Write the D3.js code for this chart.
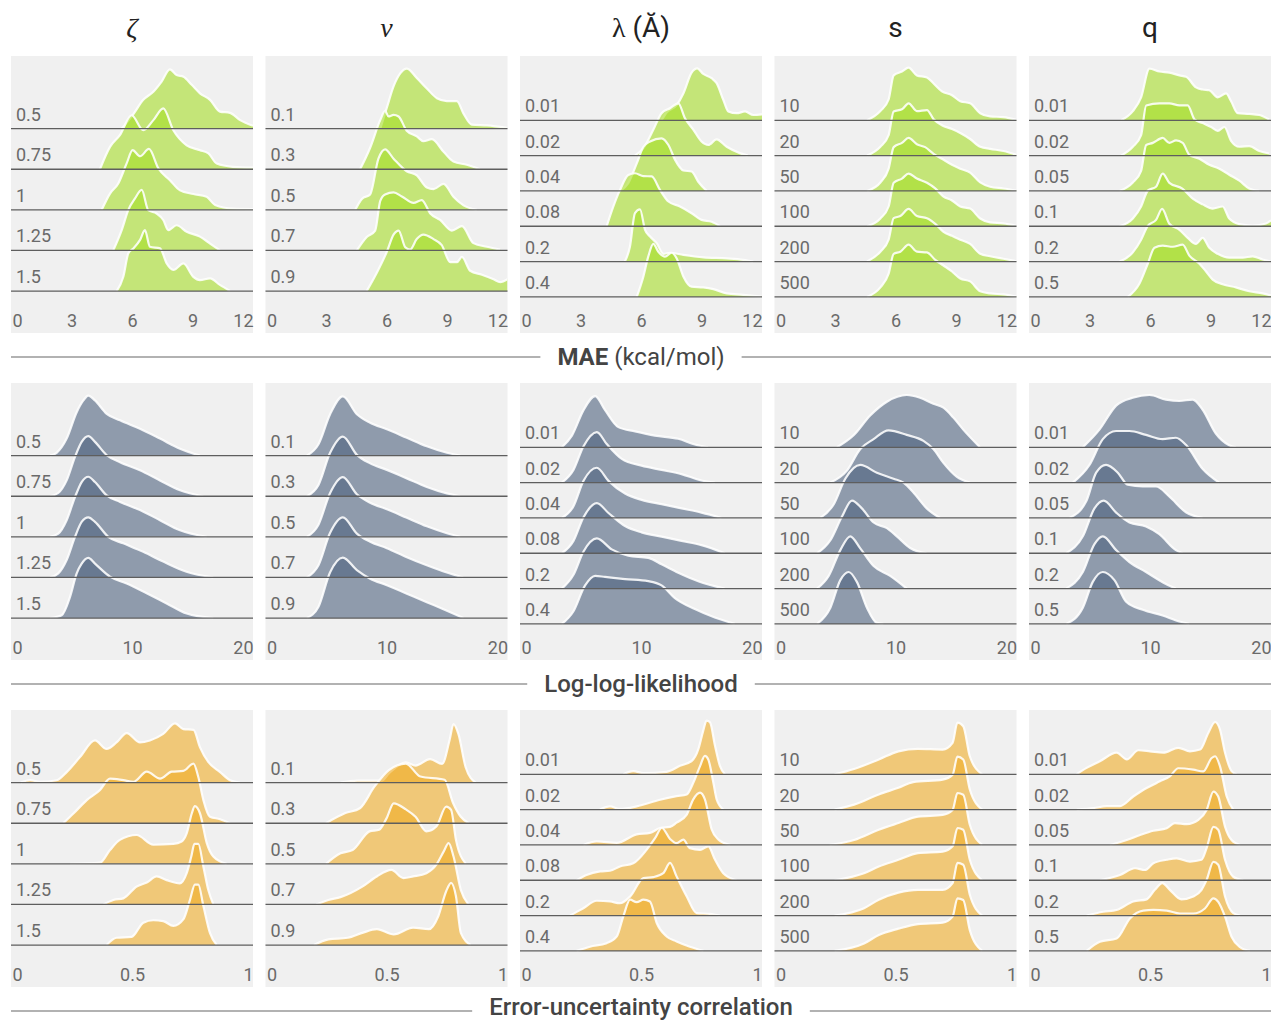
<!DOCTYPE html>
<html><head><meta charset="utf-8">
<script src="https://cdn.jsdelivr.net/npm/d3@7"></script>
<style>
body{margin:0;background:#fff;}
svg{display:block;font-family:Roboto,"Noto Sans",sans-serif;}
</style>
</head><body>
<svg id="chart" width="1271" height="1020"></svg>
<script>
// ---------- labels ----------
const columnTitles = ["ζ", "ν", "λ", "s", "q"];
const zetaLevels = ["0.5", "0.75", "1", "1.25", "1.5"];
const nuLevels = ["0.1", "0.3", "0.5", "0.7", "0.9"];
const lambdaLevels = ["0.01", "0.02", "0.04", "0.08", "0.2", "0.4"];
const sLevels = ["10", "20", "50", "100", "200", "500"];
const qLevels = ["0.01", "0.02", "0.05", "0.1", "0.2", "0.5"];
const rowTitles = ["MAE", "Log-log-likelihood", "Error-uncertainty correlation"];
const maeTicks = [0, 3, 6, 9, 12];
const llTicks = [0, 10, 20];
const corrTicks = [0, 0.5, 1];
const maeDomain = [0, 12];
const llDomain = [0, 20];
const corrDomain = [0, 1];

// ---------- densities: flat [x, h, x, h, ...] (h = relative density height) ----------
const maeZeta = [
 [5.49,0,6.07,0.36,6.56,0.71,7.06,0.91,7.47,1.16,7.88,1.46,8.21,1.32,8.55,1.28,8.96,1.08,9.37,0.87,9.87,0.71,10.36,0.42,10.86,0.39,11.36,0.21,12,0.07],
 [4.41,0,4.91,0.55,5.40,0.84,5.98,1.33,6.56,0.96,7.06,1.21,7.55,1.50,8.05,0.96,8.71,0.59,9.37,0.47,9.79,0.39,10.2,0.14,11.0,0.06,12.0,0.04],
 [4.5,0,4.91,0.40,5.32,0.65,5.74,1.15,6.03,1.47,6.40,1.32,6.84,1.50,7.31,1.02,7.88,0.73,8.38,0.48,9.04,0.39,9.70,0.32,10.12,0.12,11.0,0.03,12.0,0.02],
 [5.07,0,5.49,0.50,5.82,1.0,6.15,1.28,6.48,1.49,6.81,0.99,7.22,0.91,7.55,0.75,7.80,0.50,8.21,0.62,8.71,0.46,9.37,0.34,9.87,0.17,10.36,0],
 [5.24,0,5.57,0.35,5.82,0.93,6.07,1.05,6.40,1.26,6.64,1.50,6.89,1.09,7.39,1.05,7.72,0.68,8.05,0.52,8.55,0.68,9.04,0.35,9.37,0.27,9.87,0.31,10.36,0.15,10.86,0]
];
const maeNu = [
 [5.69,0,6.02,0.52,6.35,1.04,6.68,1.36,7.01,1.48,7.5,1.25,8.0,0.99,8.5,0.75,8.99,0.68,9.49,0.68,9.82,0.37,10.23,0.10,10.98,0.08,11.97,0.02],
 [4.69,0,5.19,0.53,5.69,1.21,5.93,1.44,6.1,1.30,6.35,1.34,6.6,1.30,7.0,0.95,7.5,0.81,7.83,0.69,8.25,0.74,8.83,0.43,9.32,0.19,9.98,0.11,10.64,0],
 [4.45,0,4.78,0.27,5.19,0.38,5.6,1.26,5.93,1.49,6.35,1.26,7.0,0.95,7.5,0.85,8.0,0.55,8.33,0.51,8.83,0.64,9.32,0.32,9.82,0.11,10.48,0],
 [4.53,0,5.02,0.33,5.44,0.49,5.69,1.22,5.93,1.38,6.35,1.43,6.76,1.33,7.34,1.17,7.75,1.24,8.17,0.91,8.66,0.75,9.24,0.49,9.74,0.60,10.31,0.18,10.98,0.09,11.64,0.02],
 [5.02,0,5.52,0.45,6.02,0.97,6.35,1.39,6.6,1.49,6.93,1.08,7.17,1.02,7.5,1.28,7.83,1.39,8.33,1.28,8.74,1.13,9.16,0.71,9.49,0.71,9.74,0.84,10.15,0.50,10.73,0.40,11.31,0.29,11.64,0.22,12.0,0.29]
];
const maeLambda = [
 [7.02,0,7.27,0.22,7.77,0.43,8.1,0.76,8.51,1.35,8.79,1.47,9.09,1.31,9.5,1.19,9.75,1.05,10.08,0.58,10.33,0.25,10.74,0.20,11.16,0.25,11.57,0.15,12,0.17],
 [5.7,0,6.12,0.21,6.61,0.73,7.02,1.2,7.44,1.34,7.85,1.48,8.18,1.06,8.6,0.73,9.0,0.40,9.34,0.30,9.75,0.46,10.25,0.25,10.9,0.07,11.3,0],
 [4.96,0,5.37,0.22,5.79,0.78,6.12,1.25,6.45,1.40,7.02,1.49,7.36,1.30,7.69,0.88,8.1,0.58,8.51,0.55,8.84,0.26,9.26,0],
 [4.3,0,4.63,0.56,4.96,1.03,5.37,1.45,5.7,1.5,6.12,1.42,6.53,1.41,6.94,1.03,7.36,0.70,7.93,0.56,8.51,0.37,9.0,0.18,9.5,0.13,9.92,0],
 [5.2,0,5.45,0.42,5.7,1.37,5.95,1.48,6.2,0.90,6.45,0.71,6.78,0.52,7.11,0.22,7.44,0.25,8.1,0.19,9.1,0.12,10.25,0.09,11.07,0.05,11.57,0],
 [5.79,0,6.12,0.58,6.36,1.14,6.61,1.5,6.86,1.28,7.19,1.14,7.52,1.25,7.77,1.09,8.1,0.58,8.51,0.29,9.09,0.27,9.59,0.22,10.25,0.10,11.07,0.06,11.98,0.01]
];
const maeS = [
 [4.59,0,5.25,0.26,5.66,0.59,5.91,1.27,6.32,1.38,6.65,1.49,7.06,1.27,7.56,1.21,7.89,1.04,8.3,0.82,8.8,0.71,9.21,0.54,9.7,0.48,10.2,0.20,10.69,0.11,11.35,0.09,12.0,0.01],
 [4.59,0,5.25,0.25,5.66,0.58,5.91,1.25,6.32,1.31,6.65,1.48,7.06,1.26,7.56,1.29,7.89,1.03,8.3,0.86,8.8,0.75,9.21,0.64,9.7,0.47,10.2,0.25,10.69,0.19,11.35,0.13,12.0,0.02],
 [4.59,0,5.25,0.24,5.66,0.63,5.91,1.24,6.32,1.36,6.65,1.5,7.06,1.32,7.47,1.24,7.89,1.05,8.3,0.91,8.8,0.74,9.21,0.63,9.7,0.52,10.2,0.24,10.69,0.12,11.35,0.07,12.0,0.01],
 [4.59,0,5.25,0.22,5.66,0.56,5.91,1.23,6.32,1.35,6.65,1.49,7.06,1.35,7.56,1.23,7.97,1.07,8.38,0.84,8.8,0.73,9.21,0.56,9.7,0.50,10.2,0.22,10.69,0.11,11.35,0.08,12.0,0.01],
 [4.59,0,5.25,0.28,5.66,0.62,5.91,1.23,6.24,1.29,6.65,1.49,7.06,1.29,7.56,1.23,7.97,1.07,8.38,0.84,8.8,0.73,9.21,0.62,9.7,0.50,10.2,0.22,10.69,0.15,11.35,0.08,12.0,0.01],
 [4.59,0,5.25,0.27,5.66,0.66,5.91,1.22,6.24,1.28,6.65,1.48,7.06,1.28,7.56,1.26,7.97,1.05,8.38,0.89,8.8,0.72,9.21,0.52,9.7,0.44,10.2,0.16,10.69,0.10,11.35,0.07,12.0,0.01]
];
const maeQ = [
 [4.57,0,5.15,0.26,5.56,0.65,5.97,1.46,6.47,1.38,6.96,1.35,7.46,1.27,7.79,1.23,8.28,0.93,8.61,0.87,8.94,0.85,9.36,0.65,9.77,0.76,10.02,0.54,10.35,0.20,10.92,0.18,11.42,0.15,11.91,0.02],
 [4.57,0,5.15,0.25,5.56,0.58,5.81,1.42,6.47,1.48,6.96,1.48,7.46,1.42,7.87,1.42,8.2,1.03,8.61,0.92,9.03,0.81,9.36,0.70,9.69,0.81,10.02,0.42,10.43,0.25,10.92,0.27,11.42,0.13,11.91,0.06],
 [4.49,0,5.15,0.24,5.56,0.57,5.81,1.30,6.14,1.36,6.63,1.50,6.96,1.36,7.29,1.43,7.62,1.36,7.95,1.02,8.45,0.91,8.94,0.74,9.44,0.63,9.93,0.46,10.43,0.29,10.92,0.07,11.42,0],
 [4.49,0,5.15,0.22,5.56,0.56,5.89,1.01,6.3,1.12,6.63,1.49,6.96,1.23,7.62,1.06,8.12,0.78,8.61,0.62,9.11,0.50,9.6,0.56,9.93,0.22,10.43,0.06,11.09,0.02,11.75,0.08,12.0,0.17],
 [4.49,0,5.15,0.26,5.56,0.62,5.89,1.01,6.3,1.18,6.6,1.49,6.96,1.07,7.46,0.90,7.87,0.67,8.28,0.50,8.61,0.67,8.94,0.39,9.36,0.22,9.93,0.11,10.59,0.11,11.09,0.15,11.58,0.06,11.96,0.01],
 [4.9,0,5.48,0.38,5.89,0.94,6.22,1.39,6.63,1.45,7.13,1.42,7.62,1.48,7.95,1.17,8.45,0.94,8.78,0.72,9.11,0.49,9.6,0.36,10.26,0.27,10.92,0.16,11.58,0.10,12.0,0.04]
];
const llZeta = [
 [3.22,0,3.77,0.07,4.6,0.42,5.43,1.07,5.98,1.36,6.39,1.48,6.94,1.36,7.91,1.03,9.01,0.87,10.66,0.66,12.31,0.42,13.97,0.17,15.62,0],
 [3.22,0,3.91,0.08,4.6,0.39,5.29,0.97,5.84,1.34,6.39,1.48,6.94,1.34,7.91,1.01,9.01,0.84,10.66,0.64,12.31,0.39,13.97,0.15,15.89,0],
 [3.22,0,3.91,0.08,4.6,0.41,5.29,0.98,5.84,1.35,6.39,1.48,6.94,1.35,7.91,1.02,9.01,0.86,10.66,0.66,12.31,0.41,13.97,0.16,16.17,0],
 [3.22,0,3.91,0.10,4.6,0.43,5.29,1.0,5.84,1.37,6.39,1.48,6.94,1.37,8.04,1.0,9.28,0.84,10.93,0.63,12.58,0.39,14.5,0.14,16.72,0],
 [3.22,0,4.19,0.07,4.88,0.52,5.43,1.1,5.84,1.34,6.39,1.48,6.94,1.34,8.18,1.02,9.56,0.85,11.21,0.61,12.86,0.36,14.52,0.11,16.72,0]
];
const llNu = [
 [3.42,0,4.38,0.28,5.34,1.02,6.39,1.46,7.55,1.02,8.65,0.81,10.03,0.65,11.68,0.44,13.33,0.23,14.99,0.07,16.09,0],
 [3.42,0,4.38,0.28,5.34,1.07,6.39,1.47,7.55,1.02,8.65,0.81,10.03,0.65,11.68,0.44,13.33,0.23,14.99,0.07,16.09,0],
 [3.42,0,4.38,0.30,5.34,1.08,6.39,1.47,7.55,1.05,8.65,0.84,10.03,0.68,11.68,0.47,13.33,0.26,14.99,0.09,16.09,0],
 [3.42,0,4.38,0.30,5.34,1.10,6.39,1.48,7.55,1.08,8.65,0.88,10.03,0.72,11.68,0.50,13.33,0.30,14.99,0.12,16.36,0],
 [3.42,0,4.38,0.28,5.34,1.13,6.39,1.49,7.55,1.18,8.65,0.97,10.03,0.81,11.68,0.60,13.33,0.39,14.99,0.18,16.36,0]
];
const llLambda = [
 [3.46,0,4.29,0.33,5.25,1.05,6.21,1.45,7.03,1.05,8.13,0.57,9.51,0.45,11.15,0.33,13.08,0.24,14.45,0.08,15.55,0],
 [3.46,0,4.42,0.36,5.25,1.03,6.35,1.43,7.17,1.09,8.41,0.67,10.05,0.48,11.7,0.36,13.35,0.24,15,0.06,16.1,0],
 [3.46,0,4.42,0.33,5.25,1.05,6.35,1.42,7.31,1.05,8.68,0.69,10.05,0.51,11.7,0.39,13.35,0.27,15,0.15,16.65,0],
 [3.46,0,4.42,0.35,5.25,1.02,6.35,1.42,7.31,1.14,8.68,0.77,10.05,0.59,11.7,0.47,13.35,0.35,15,0.23,16.92,0],
 [3.46,0,4.42,0.39,5.25,1.05,6.35,1.42,7.58,1.11,8.95,0.93,10.6,0.87,11.7,0.69,13.08,0.45,14.73,0.21,16.92,0],
 [3.46,0,4.42,0.36,5.38,1.09,6.21,1.36,7.03,1.33,8.68,1.27,10.6,1.21,11.7,1.09,12.8,0.73,14.45,0.42,16.1,0.18,17.75,0]
];
const llS = [
 [5.16,0,6.54,0.34,7.91,0.9,9.29,1.29,10.93,1.48,12.03,1.40,13.13,1.23,13.96,1.12,14.78,0.84,15.6,0.50,16.98,0],
 [4.62,0,5.99,0.34,7.09,0.95,8.19,1.23,9.42,1.48,10.93,1.35,12.31,1.18,13.13,0.95,13.96,0.56,15.05,0.17,16.15,0],
 [3.79,0,4.89,0.38,5.85,1.11,7.09,1.50,8.46,1.28,9.84,1.11,10.66,1.0,11.48,0.72,12.58,0.27,13.68,0],
 [3.52,0,4.62,0.37,5.58,1.04,6.4,1.49,7.22,1.27,8.19,0.87,9.29,0.71,10.11,0.48,11.21,0.15,12.58,0],
 [3.52,0,4.48,0.36,5.44,1.09,6.26,1.48,7.09,1.14,8.19,0.64,9.56,0.36,10.93,0],
 [3.52,0,4.62,0.46,5.44,1.24,6.13,1.47,6.81,1.19,7.64,0.46,8.46,0.03,9.0,0]
];
const llQ = [
 [4.45,0,5.82,0.50,7.2,1.18,8.57,1.40,9.95,1.48,11.32,1.35,12.42,1.31,13.52,1.35,14.34,1.07,15.44,0.39,16.54,0.06,17.09,0],
 [3.63,0,5.0,0.50,6.1,1.23,7.2,1.46,8.3,1.46,9.67,1.35,11.04,1.23,12.14,1.27,12.97,1.07,14.34,0.39,15.71,0],
 [3.35,0,4.73,0.47,5.55,1.28,6.37,1.50,7.34,1.28,8.16,0.94,9.4,0.89,10.49,0.89,11.59,0.61,12.97,0.16,14.34,0],
 [3.08,0,4.45,0.48,5.41,1.27,6.18,1.49,7.2,1.15,8.3,0.87,9.67,0.76,10.77,0.54,12.14,0.09,12.69,0],
 [3.08,0,4.45,0.47,5.41,1.26,6.1,1.48,7.2,1.09,8.3,0.75,9.67,0.47,11.32,0.13,12.14,0],
 [3.08,0,4.45,0.46,5.27,1.19,6.1,1.47,7.06,1.24,8.03,0.63,9.4,0.40,11.04,0.24,12.42,0.07,13.24,0]
];
const corrZeta = [
 [0.04,0,0.079,0.06,0.12,0.02,0.189,0.06,0.23,0.26,0.285,0.63,0.347,1.04,0.395,0.83,0.436,0.99,0.478,1.22,0.533,0.99,0.574,1.04,0.629,1.20,0.678,1.46,0.712,1.32,0.754,1.30,0.781,0.87,0.815,0.51,0.864,0.26,0.905,0.06,0.946,0],
 [0.216,0,0.258,0.24,0.313,0.57,0.368,0.82,0.409,1.1,0.464,1.06,0.506,1.02,0.561,1.27,0.616,1.10,0.664,1.27,0.712,1.29,0.754,1.47,0.774,1.14,0.795,0.57,0.822,0.16,0.864,0.10,0.905,0],
 [0.244,0,0.368,0.03,0.409,0.34,0.45,0.59,0.519,0.71,0.588,0.47,0.671,0.49,0.705,0.55,0.726,0.75,0.747,1.24,0.76,1.42,0.781,1.24,0.809,0.51,0.836,0.18,0.891,0],
 [0.382,0,0.423,0.11,0.464,0.15,0.519,0.44,0.561,0.54,0.602,0.69,0.643,0.60,0.698,0.52,0.726,0.77,0.745,1.18,0.758,1.49,0.774,1.49,0.795,0.93,0.815,0.36,0.836,0],
 [0.395,0,0.436,0.18,0.498,0.20,0.547,0.55,0.588,0.61,0.629,0.59,0.671,0.47,0.712,0.63,0.74,1.12,0.76,1.49,0.774,1.49,0.795,0.96,0.822,0.30,0.85,0]
];
const corrNu = [
 [0.31,0,0.38,0.05,0.48,0.05,0.51,0.23,0.58,0.50,0.62,0.42,0.68,0.58,0.73,0.46,0.76,1.03,0.777,1.44,0.797,1.20,0.827,0.38,0.868,0],
 [0.25,0,0.33,0.25,0.39,0.37,0.45,0.90,0.51,1.31,0.58,1.47,0.64,1.15,0.74,1.07,0.775,0.5,0.807,0.16,0.84,0],
 [0.25,0,0.31,0.26,0.36,0.34,0.43,0.80,0.47,0.84,0.50,1.12,0.53,1.49,0.58,1.34,0.62,1.16,0.665,0.80,0.706,0.92,0.747,1.41,0.767,1.33,0.787,0.59,0.828,0],
 [0.21,0,0.26,0.11,0.31,0.18,0.40,0.44,0.46,0.69,0.52,0.85,0.57,0.65,0.61,0.69,0.665,0.77,0.706,0.98,0.736,1.30,0.757,1.51,0.777,1.18,0.807,0.36,0.838,0],
 [0.2,0,0.26,0.14,0.34,0.18,0.40,0.30,0.46,0.39,0.53,0.26,0.61,0.43,0.675,0.39,0.714,0.71,0.747,1.33,0.767,1.53,0.787,1.20,0.807,0.30,0.848,0]
];
const corrLambda = [
 [0.427,0,0.468,0.09,0.51,0.03,0.606,0.07,0.661,0.24,0.71,0.38,0.737,0.71,0.757,1.23,0.771,1.52,0.785,1.47,0.806,0.80,0.826,0.24,0.847,0],
 [0.33,0,0.372,0.09,0.413,0.02,0.482,0.09,0.579,0.28,0.647,0.38,0.689,0.43,0.716,0.76,0.744,1.23,0.764,1.52,0.778,1.42,0.799,0.76,0.813,0.28,0.84,0],
 [0.262,0,0.317,0.1,0.40,0.06,0.482,0.30,0.537,0.34,0.579,0.48,0.62,0.51,0.647,0.63,0.689,0.86,0.716,1.29,0.744,1.48,0.764,1.29,0.792,0.44,0.82,0.15,0.868,0],
 [0.234,0,0.275,0.15,0.331,0.25,0.372,0.27,0.413,0.39,0.468,0.48,0.523,0.86,0.558,1.19,0.586,1.48,0.62,1.17,0.647,1.05,0.675,1.15,0.702,0.91,0.744,0.86,0.778,0.96,0.806,0.58,0.84,0.2,0.895,0],
 [0.207,0,0.262,0.21,0.317,0.42,0.372,0.40,0.413,0.35,0.455,0.54,0.51,1.06,0.551,1.09,0.592,1.20,0.62,1.49,0.647,1.11,0.689,0.54,0.73,0.07,0.785,0.05,0.826,0],
 [0.234,0,0.289,0.12,0.358,0.22,0.4,0.41,0.427,0.98,0.455,1.45,0.482,1.38,0.51,1.45,0.537,1.40,0.565,0.79,0.606,0.41,0.647,0.27,0.702,0.12,0.758,0]
];
const corrS = [
 [0.248,0,0.329,0.15,0.431,0.42,0.512,0.65,0.593,0.72,0.695,0.70,0.736,0.89,0.756,1.46,0.78,1.36,0.807,0.51,0.858,0],
 [0.248,0,0.329,0.14,0.431,0.43,0.512,0.62,0.573,0.78,0.695,0.85,0.736,0.99,0.756,1.50,0.78,1.42,0.807,0.57,0.858,0],
 [0.228,0,0.329,0.14,0.431,0.43,0.512,0.62,0.593,0.80,0.695,0.85,0.736,0.99,0.756,1.47,0.78,1.42,0.807,0.57,0.858,0],
 [0.248,0,0.37,0.2,0.431,0.39,0.512,0.58,0.593,0.77,0.695,0.81,0.736,0.96,0.756,1.48,0.78,1.43,0.807,0.58,0.858,0],
 [0.248,0,0.37,0.21,0.431,0.45,0.512,0.65,0.593,0.73,0.695,0.73,0.736,0.92,0.756,1.49,0.78,1.44,0.807,0.59,0.858,0],
 [0.248,0,0.37,0.21,0.431,0.45,0.512,0.63,0.593,0.76,0.695,0.80,0.736,0.97,0.756,1.49,0.78,1.44,0.807,0.59,0.858,0]
];
const corrQ = [
 [0.197,0,0.238,0.18,0.293,0.37,0.362,0.61,0.404,0.42,0.452,0.68,0.5,0.65,0.555,0.61,0.617,0.75,0.665,0.65,0.707,0.70,0.741,1.17,0.769,1.48,0.789,1.27,0.81,0.61,0.837,0.09,0.858,0],
 [0.197,0,0.266,0.04,0.321,0.10,0.376,0.10,0.431,0.37,0.486,0.61,0.541,0.80,0.582,0.94,0.617,1.17,0.679,1.13,0.72,1.08,0.755,1.46,0.769,1.51,0.789,1.23,0.817,0.37,0.844,0],
 [0.335,0,0.404,0.14,0.459,0.28,0.514,0.40,0.569,0.47,0.603,0.62,0.652,0.59,0.7,0.71,0.734,0.99,0.762,1.51,0.782,1.37,0.81,0.52,0.837,0.14,0.872,0],
 [0.293,0,0.376,0.15,0.438,0.34,0.479,0.29,0.514,0.48,0.569,0.58,0.61,0.62,0.665,0.53,0.713,0.58,0.734,0.91,0.762,1.51,0.782,1.43,0.81,0.58,0.844,0.10,0.886,0],
 [0.238,0,0.307,0.11,0.362,0.16,0.431,0.40,0.486,0.46,0.52,0.73,0.551,0.92,0.582,0.73,0.63,0.46,0.679,0.54,0.713,0.73,0.734,1.01,0.762,1.52,0.782,1.44,0.81,0.54,0.844,0.07,0.872,0],
 [0.238,0,0.293,0.26,0.362,0.35,0.417,0.92,0.472,1.14,0.514,1.16,0.569,1.14,0.624,1.06,0.679,1.06,0.727,1.20,0.762,1.49,0.782,1.39,0.81,0.97,0.837,0.40,0.872,0.11,0.913,0]
];

// ---------- styling ----------
const fills = ["#a6de28", "#4e627f", "#f0ad28"];
const panelW = 242, panelH = 277;
const colLeft = i => 11 + i * 254.5;
const rowTop = r => 56 + r * 327;

const levelSets = [zetaLevels, nuLevels, lambdaLevels, sLevels, qLevels];
const rows = [
  {domain: maeDomain, ticks: maeTicks, data: [maeZeta, maeNu, maeLambda, maeS, maeQ]},
  {domain: llDomain, ticks: llTicks, data: [llZeta, llNu, llLambda, llS, llQ]},
  {domain: corrDomain, ticks: corrTicks, data: [corrZeta, corrNu, corrLambda, corrS, corrQ]}
];

const svg = d3.select("#chart");
const toPairs = arr => d3.range(0, arr.length, 2).map(k => [arr[k], arr[k + 1]]);

// column titles
const titleG = svg.append("g");
columnTitles.forEach((t, i) => {
  const cx = colLeft(i) + panelW / 2;
  const txt = titleG.append("text").attr("x", cx).attr("y", 37)
    .attr("text-anchor", "middle").attr("fill", "#222").attr("font-size", 28);
  if (i < 2) {
    txt.attr("font-family", "'Liberation Serif','DejaVu Serif',serif").attr("font-style", "italic").text(t);
  } else if (i === 2) {
    txt.append("tspan").attr("font-family", "'Liberation Serif','DejaVu Serif',serif").text(t);
    txt.append("tspan").text(" (Ă)");
  } else {
    txt.text(t);
  }
});

rows.forEach((row, r) => {
  const x = d3.scaleLinear().domain(row.domain).range([0, panelW]);
  row.data.forEach((ridges, c) => {
    const levels = levelSets[c];
    const N = levels.length;
    const step = 272.4 / (N + 1.71);
    const base = i => 8.1 + (i + 1.59) * step;
    const hScale = d3.scaleLinear().domain([0, 1]).range([0, -step]);
    const g = svg.append("g").attr("transform", `translate(${colLeft(c)},${rowTop(r)})`);
    const clipId = `clip-${r}-${c}`;
    g.append("clipPath").attr("id", clipId).append("rect").attr("width", panelW).attr("height", panelH);
    g.append("rect").attr("width", panelW).attr("height", panelH).attr("fill", "#f0f0f0");

    const area = d3.area().x(d => x(d[0])).y0(0).y1(d => hScale(d[1])).curve(d3.curveMonotoneX);
    const line = d3.line().x(d => x(d[0])).y(d => hScale(d[1])).curve(d3.curveMonotoneX);
    const body = g.append("g").attr("clip-path", `url(#${clipId})`);
    ridges.forEach((flat, i) => {
      const pts = toPairs(flat);
      const rg = body.append("g").attr("transform", `translate(0,${base(i)})`);
      rg.append("path").attr("d", area(pts)).attr("fill", fills[r]).attr("fill-opacity", 0.6);
      rg.append("path").attr("d", line(pts)).attr("fill", "none")
        .attr("stroke", "#ffffff").attr("stroke-opacity", 0.88).attr("stroke-width", 2.2)
        .attr("stroke-linejoin", "round");
    });
    levels.forEach((lv, i) => {
      g.append("line").attr("x1", 0).attr("x2", panelW).attr("y1", base(i)).attr("y2", base(i))
        .attr("stroke", "#5e5e5e").attr("stroke-width", 1.3);
      g.append("text").attr("x", 5).attr("y", base(i) - 8).attr("font-size", 18)
        .attr("fill", "#6a6a6a").text(lv);
    });
    // x axis
    const ax = g.append("g").attr("transform", `translate(0,271)`)
      .call(d3.axisBottom(x).tickValues(row.ticks).tickSize(0).tickPadding(0).tickFormat(d3.format("~g")));
    ax.select(".domain").remove();
    ax.selectAll("text").attr("y", 0).attr("dy", 0).attr("font-size", 18)
      .attr("font-family", "Roboto,'Noto Sans',sans-serif").attr("fill", "#6a6a6a");
    ax.selectAll(".tick text").attr("text-anchor", (d, k, n) => k === 0 ? "start" : (k === n.length - 1 ? "end" : "middle"))
      .attr("dx", (d, k, n) => k === 0 ? 1 : 0);
  });

  // row title with rules
  const ty = rowTop(r) + 301;
  const tg = svg.append("g");
  const t = tg.append("text").attr("x", 641).attr("y", r === 2 ? ty + 3.5 : ty + 8)
    .attr("text-anchor", "middle").attr("font-size", 24).attr("fill", "#444");
  if (r === 0) {
    t.append("tspan").attr("font-weight", 700).text(rowTitles[0]);
    t.append("tspan").attr("font-weight", 400).text(" (kcal/mol)");
  } else {
    t.attr("font-weight", 500).text(rowTitles[r]);
  }
  const bb = t.node().getBBox();
  tg.append("line").attr("x1", 11).attr("x2", bb.x - 17).attr("y1", ty).attr("y2", ty)
    .attr("stroke", "#999").attr("stroke-width", 1.3);
  tg.append("line").attr("x1", bb.x + bb.width + 17).attr("x2", 1271).attr("y1", ty).attr("y2", ty)
    .attr("stroke", "#999").attr("stroke-width", 1.3);
});
</script>
</body></html>
